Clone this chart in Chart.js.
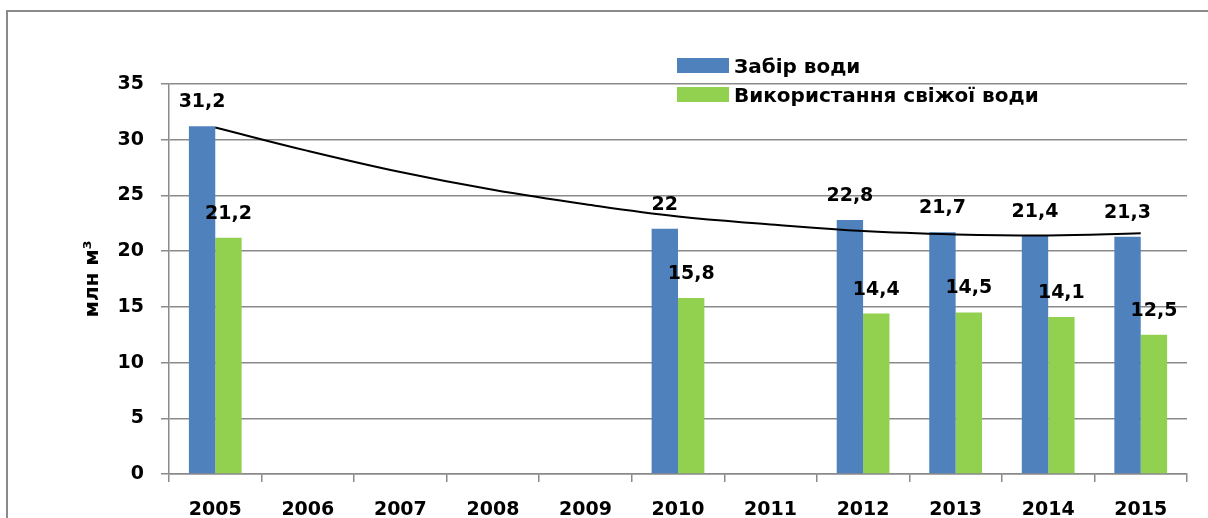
<!DOCTYPE html>
<html lang="uk">
<head>
  <meta charset="UTF-8" />
  <title>Забір та використання води</title>
  <script src="https://cdn.jsdelivr.net/npm/chart.js"></script>
  <style>
    html, body { margin: 0; padding: 0; background: #fff; overflow: hidden; }
    .wrap { position: relative; width: 1208px; height: 518px; overflow: hidden; }
    .frame { position: absolute; left: 6px; top: 10px; width: 1300px; height: 700px; border: 2px solid #8a8a8a; }
    .chart-box { position: absolute; left: 0; top: 0; width: 1208px; height: 540px; }
    .legend { position: absolute; left: 677px; top: 51px; font: bold 20px "DejaVu Sans", sans-serif; color: #000; }
    .legend div { height: 29px; display: flex; align-items: center; white-space: nowrap; }
    .legend span.box { display: inline-block; width: 52px; height: 15px; margin-right: 5px; }
  </style>
</head>
<body>
<div class="wrap">
  <div class="frame"></div>
  <div class="chart-box"><canvas id="waterChart" width="1208" height="540"></canvas></div>
  <div class="legend" id="legend"></div>
</div>

<script>
// дані з діаграми
const years = ['2005', '2006', '2007', '2008', '2009', '2010', '2011', '2012', '2013', '2014', '2015'];
const zabir = [31.2, null, null, null, null, 22, null, 22.8, 21.7, 21.4, 21.3];
const svizha = [21.2, null, null, null, null, 15.8, null, 14.4, 14.5, 14.1, 12.5];
// лінія тренду
const trend = [31.1, 29.0, 27.1, 25.5, 24.2, 23.1, 22.4, 21.8, 21.5, 21.4, 21.6];
const yTicks = [0, 5, 10, 15, 20, 25, 30, 35];

const FONT = 'DejaVu Sans';
const GRID = '#8a8a8a';

// підписи значень над стовпцями
const valueLabels = {
  id: 'valueLabels',
  afterDatasetsDraw(chart) {
    const ctx = chart.ctx;
    ctx.save();
    ctx.font = 'bold 19px "' + FONT + '"';
    ctx.fillStyle = '#000';
    ctx.textAlign = 'center';
    ctx.textBaseline = 'alphabetic';
    chart.data.datasets.forEach((ds, i) => {
      if (ds.type === 'line') return;
      chart.getDatasetMeta(i).data.forEach((bar, j) => {
        const v = ds.data[j];
        if (v === null) return;
        ctx.fillText(String(v).replace('.', ','), bar.x, bar.y - 19);
      });
    });
    ctx.restore();
  }
};

const ctx = document.getElementById('waterChart').getContext('2d');
const chart = new Chart(ctx, {
  type: 'bar',
  data: {
    labels: years,
    datasets: [
      { type: 'line', label: 'Тренд', data: trend, borderColor: '#000', borderWidth: 2,
        pointRadius: 0, tension: 0.4, fill: false, order: 0 },
      { label: 'Забір води', data: zabir, backgroundColor: '#4F81BD', order: 1,
        categoryPercentage: 0.57, barPercentage: 1 },
      { label: 'Використання свіжої води', data: svizha, backgroundColor: '#92D050', order: 1,
        categoryPercentage: 0.57, barPercentage: 1 }
    ]
  },
  options: {
    responsive: false,
    animation: false,
    layout: { padding: { top: 84, right: 21, left: 0, bottom: 0 } },
    plugins: { legend: { display: false }, tooltip: { enabled: false } },
    scales: {
      x: {
        grid: { drawOnChartArea: false, drawTicks: true, tickLength: 8, color: GRID, lineWidth: 1.5, offset: true },
        border: { color: GRID, width: 1.5 },
        ticks: { color: '#000', font: { family: FONT, size: 19, weight: 'bold' }, padding: 17,
                 maxRotation: 0, autoSkip: false },
        afterFit(scale) { scale.height = 66; }
      },
      y: {
        min: 0, max: 35,
        afterBuildTicks(scale) { scale.ticks = yTicks.map(v => ({ value: v })); },
        grid: { color: GRID, lineWidth: 1.5, tickLength: 8 },
        border: { color: GRID, width: 1.5 },
        ticks: { color: '#000', font: { family: FONT, size: 19, weight: 'bold' }, padding: 17 },
        title: { display: true, text: 'млн м³', color: '#000',
                 font: { family: FONT, size: 20, weight: 'bold' }, padding: { top: 81, bottom: 0 } },
        afterFit(scale) { scale.width = 169; }
      }
    }
  },
  plugins: [valueLabels]
});

// легенда
const legend = document.getElementById('legend');
chart.data.datasets.filter(d => d.type !== 'line').forEach(d => {
  const row = document.createElement('div');
  row.innerHTML = '<span class="box" style="background:' + d.backgroundColor + '"></span>' + d.label;
  legend.appendChild(row);
});
</script>
</body>
</html>
